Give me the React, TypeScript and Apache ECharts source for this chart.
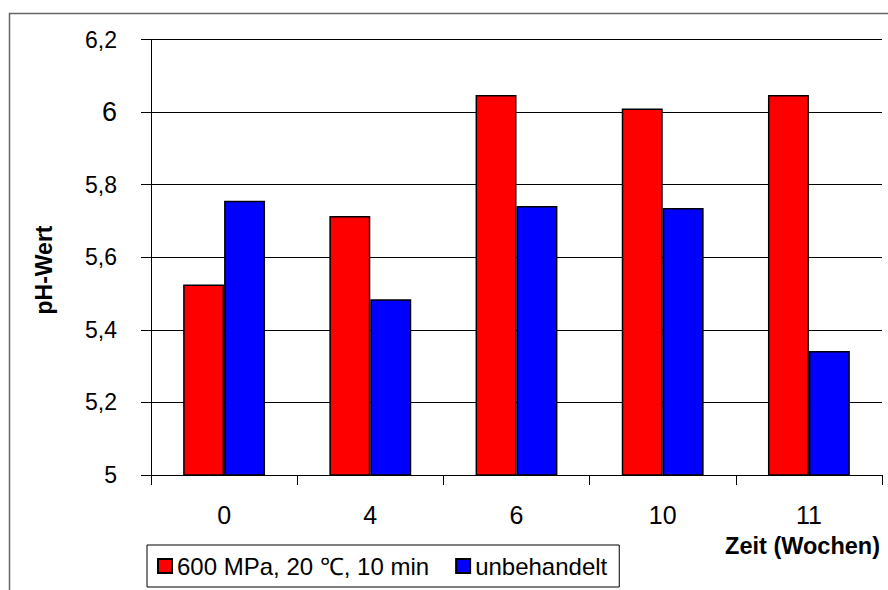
import React, { useEffect, useRef } from "react";
import * as echarts from "echarts";

const categories = ["0", "4", "6", "10", "11"];
const treatedValues = [5.525, 5.714, 6.047, 6.01, 6.047];
const untreatedValues = [5.756, 5.484, 5.741, 5.736, 5.342];
const seriesNames = ["600 MPa, 20 \u2103, 10 min", "unbehandelt"];
const yTicks = { min: 5, max: 6.2, interval: 0.2 };

const FONT = "'Liberation Sans', Arial, sans-serif";

export default function App() {
  const ref = useRef<HTMLDivElement>(null);

  useEffect(() => {
    if (!ref.current) return;
    const chart = echarts.init(ref.current, null, { renderer: "svg" });
    chart.setOption({
      animation: false,
      backgroundColor: "#ffffff",
      textStyle: { fontFamily: FONT },
      graphic: [
        {
          type: "rect",
          shape: { x: 9.5, y: 13.5, width: 900, height: 600 },
          style: { fill: "none", stroke: "#666", lineWidth: 1.5 },
          silent: true,
        },
        {
          type: "text",
          x: 44,
          y: 270,
          rotation: Math.PI / 2,
          style: {
            text: "pH-Wert",
            font: `bold 23px ${FONT}`,
            fill: "#000",
            align: "center",
            verticalAlign: "middle",
          },
        },
        {
          type: "text",
          x: 880,
          y: 546,
          style: {
            text: "Zeit (Wochen)",
            font: `bold 23.5px ${FONT}`,
            fill: "#000",
            align: "right",
            verticalAlign: "middle",
          },
        },
      ],
      grid: { left: 151, right: 6, top: 39.5, bottom: 115, containLabel: false },
      legend: {
        left: 147,
        top: 545,
        orient: "horizontal",
        itemWidth: 14,
        itemHeight: 14,
        itemGap: 26,
        padding: [9, 12, 9, 10],
        borderColor: "#000",
        borderWidth: 1,
        icon: "rect",
        textStyle: { fontSize: 24, color: "#000", fontFamily: FONT },
        data: seriesNames,
      },
      xAxis: {
        type: "category",
        data: categories,
        axisLine: { lineStyle: { color: "#000", width: 1 } },
        axisTick: { show: true, length: 10, alignWithLabel: false, lineStyle: { color: "#000" } },
        axisLabel: { margin: 27, fontSize: 25, color: "#000", fontFamily: FONT },
      },
      yAxis: {
        type: "value",
        min: yTicks.min,
        max: yTicks.max,
        interval: yTicks.interval,
        axisLine: { show: true, lineStyle: { color: "#000", width: 1 } },
        axisTick: { show: true, length: 10, lineStyle: { color: "#000" } },
        splitLine: { show: true, lineStyle: { color: "#000", width: 1 } },
        axisLabel: {
          margin: 34,
          fontSize: 23,
          color: "#000",
          fontFamily: FONT,
          formatter: (v: number) => {
            const s = (Math.round(v * 10) / 10).toString().replace(".", ",");
            return s === "6" ? `{big|${s}}` : s;
          },
          rich: { big: { fontSize: 27, fontFamily: FONT, color: "#000" } },
        },
      },
      series: [
        {
          name: seriesNames[0],
          type: "bar",
          data: treatedValues,
          barGap: "0%",
          barCategoryGap: "44%",
          itemStyle: { color: "#ff0000", borderColor: "#000", borderWidth: 1.5 },
        },
        {
          name: seriesNames[1],
          type: "bar",
          data: untreatedValues,
          barGap: "0%",
          barCategoryGap: "44%",
          itemStyle: { color: "#0000ff", borderColor: "#000", borderWidth: 1.5 },
        },
      ],
    });
    return () => chart.dispose();
  }, []);

  return <div ref={ref} style={{ position: "fixed", left: 0, top: 0, width: 888, height: 590 }} />;
}
